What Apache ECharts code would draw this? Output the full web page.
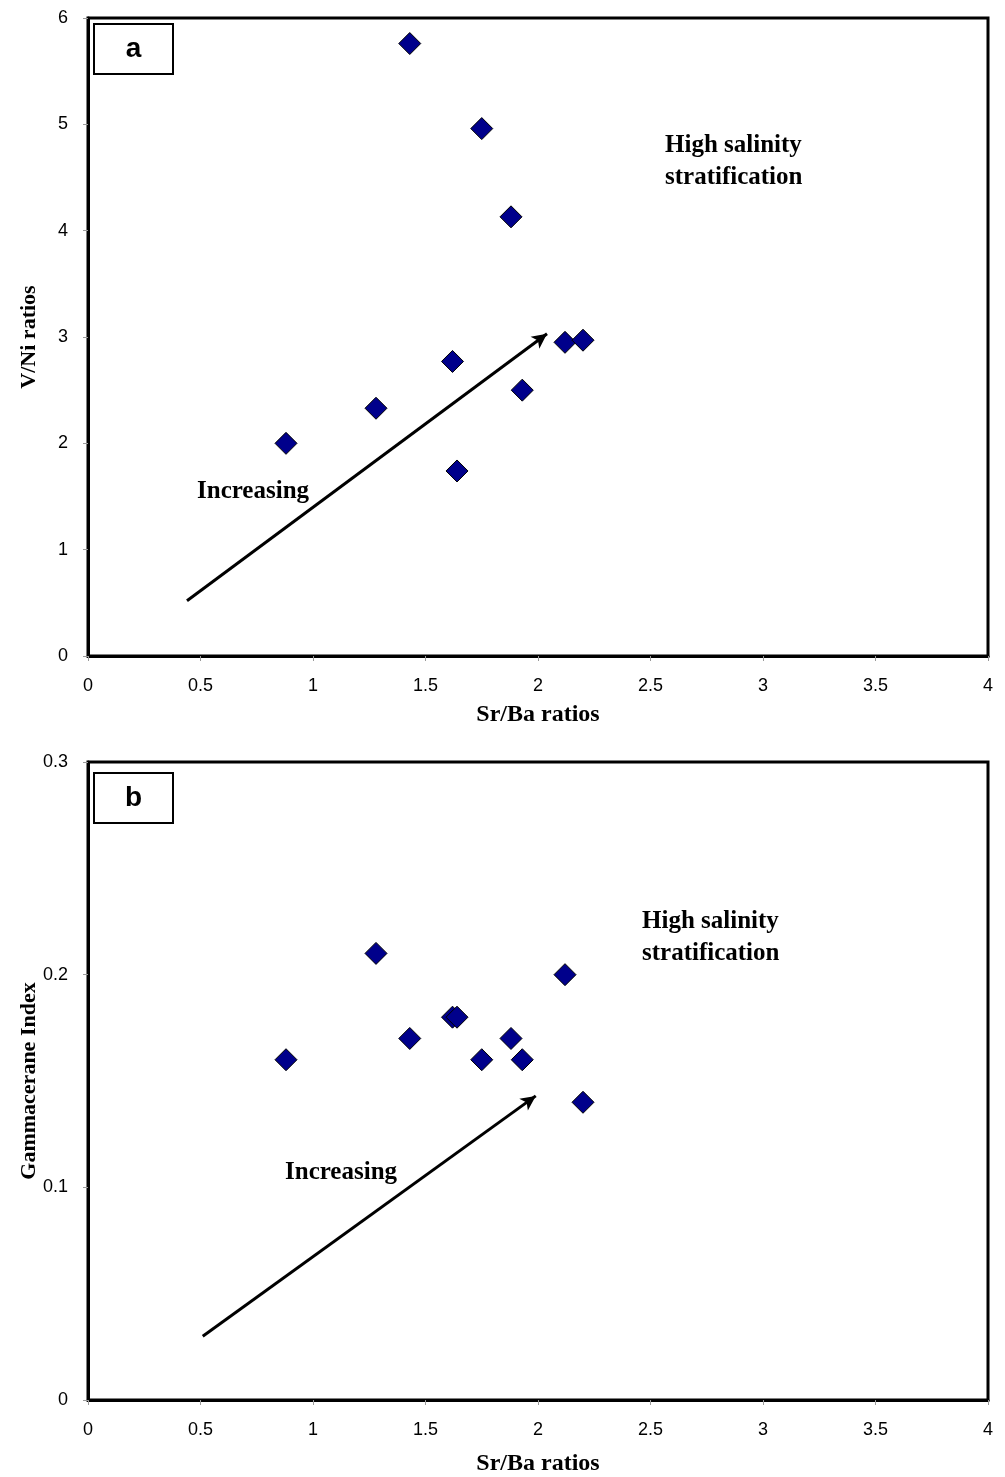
<!DOCTYPE html>
<html>
<head>
<meta charset="utf-8">
<script src="https://cdn.jsdelivr.net/npm/echarts@6/dist/echarts.min.js"></script>
<style>
html, body { margin: 0; padding: 0; background: #fff; }
#main { width: 1005px; height: 1477px; }
</style>
</head>
<body>
<div id="main"></div>
<script>
// Sr/Ba ratios (shared by both panels)
var srBa = [1.43, 1.75, 1.88, 2.12, 2.20, 1.62, 1.93, 1.28, 0.88, 1.64];
// panel a: V/Ni ratios
var vNi = [5.76, 4.96, 4.13, 2.95, 2.97, 2.77, 2.50, 2.33, 2.00, 1.74];
// panel b: Gammacerane index
var gamma = [0.17, 0.16, 0.17, 0.20, 0.14, 0.18, 0.16, 0.21, 0.16, 0.18];

var xTicks = [0, 0.5, 1, 1.5, 2, 2.5, 3, 3.5, 4];
// arrows "Increasing"
var arrowA = [[0.44, 0.52], [2.04, 3.03]];
var arrowB = [[0.51, 0.03], [1.99, 0.143]];

var chart = echarts.init(document.getElementById('main'));

function pairs(ys) {
    var out = [];
    for (var i = 0; i < srBa.length; i++) {
        out.push([srBa[i], ys[i]]);
    }
    return out;
}

function xAxisCfg(idx, gap) {
    return {
        gridIndex: idx,
        type: 'value',
        min: 0, max: 4, interval: 0.5,
        name: 'Sr/Ba ratios',
        nameLocation: 'middle',
        nameGap: gap,
        nameMoveOverlap: false,
        nameTextStyle: {fontFamily: 'Liberation Serif', fontWeight: 'bold', fontSize: 24, color: '#000'},
        axisLine: {show: true, onZero: false, lineStyle: {color: '#000', width: 3}},
        axisTick: {show: true, length: 5, lineStyle: {color: '#999', width: 1}},
        axisLabel: {
            fontFamily: '"Liberation Sans Narrow", "Liberation Sans"', fontSize: 18, color: '#000', margin: 21,
            formatter: function (v) { return xTicks.indexOf(v) >= 0 ? String(v) : ''; }
        },
        splitLine: {show: false}
    };
}

function yAxisCfg(idx, name, max, interval) {
    return {
        gridIndex: idx,
        type: 'value',
        min: 0, max: max, interval: interval,
        name: name,
        nameLocation: 'middle',
        nameGap: 48,
        nameMoveOverlap: false,
        nameTextStyle: {fontFamily: 'Liberation Serif', fontWeight: 'bold', fontSize: 22, color: '#000'},
        axisLine: {show: true, onZero: false, lineStyle: {color: '#000', width: 3}},
        axisTick: {show: true, length: 5, lineStyle: {color: '#999', width: 1}},
        axisLabel: {fontFamily: 'Liberation Sans', fontSize: 18, color: '#000', margin: 20},
        splitLine: {show: false}
    };
}

function scatterCfg(idx, ys, arrow) {
    return {
        type: 'scatter',
        xAxisIndex: idx,
        yAxisIndex: idx,
        symbol: 'diamond',
        symbolSize: [22, 22],
        itemStyle: {color: '#00008B', opacity: 1, borderColor: '#000', borderWidth: 1},
        data: pairs(ys),
        markLine: {
            silent: true,
            symbol: ['none', 'arrow'],
            symbolSize: [11, 15],
            label: {show: false},
            lineStyle: {color: '#000', width: 3, type: 'solid'},
            data: [[{coord: arrow[0]}, {coord: arrow[1]}]]
        }
    };
}

function labelBox(top, txt) {
    return {
        type: 'group',
        left: 93, top: top,
        children: [
            {type: 'rect', shape: {x: 0, y: 0, width: 79, height: 50},
             style: {fill: '#fff', stroke: '#000', lineWidth: 2}},
            {type: 'text', x: 39.5, y: 25,
             style: {text: txt, font: 'bold 28px "Liberation Sans"', fill: '#000',
                     textAlign: 'center', textVerticalAlign: 'middle'}}
        ]
    };
}

function note(x, y, txt) {
    return {
        type: 'text', left: x, top: y,
        style: {text: txt, font: 'bold 25px "Liberation Serif"', fill: '#000', lineHeight: 32}
    };
}

var option = {
    animation: false,
    backgroundColor: '#fff',
    grid: [
        {left: 88, right: 17, top: 18, height: 638, show: true, borderColor: '#000', borderWidth: 3, backgroundColor: 'transparent'},
        {left: 88, right: 17, top: 762, height: 638, show: true, borderColor: '#000', borderWidth: 3, backgroundColor: 'transparent'}
    ],
    xAxis: [xAxisCfg(0, 47), xAxisCfg(1, 52)],
    yAxis: [yAxisCfg(0, 'V/Ni ratios', 6, 1), yAxisCfg(1, 'Gammacerane Index', 0.3, 0.1)],
    series: [scatterCfg(0, vNi, arrowA), scatterCfg(1, gamma, arrowB)],
    graphic: [
        labelBox(23, 'a'),
        labelBox(772, 'b'),
        note(665, 130, 'High salinity\nstratification'),
        note(642, 906, 'High salinity\nstratification'),
        note(197, 476, 'Increasing'),
        note(285, 1157, 'Increasing')
    ]
};

chart.setOption(option);
</script>
</body>
</html>
